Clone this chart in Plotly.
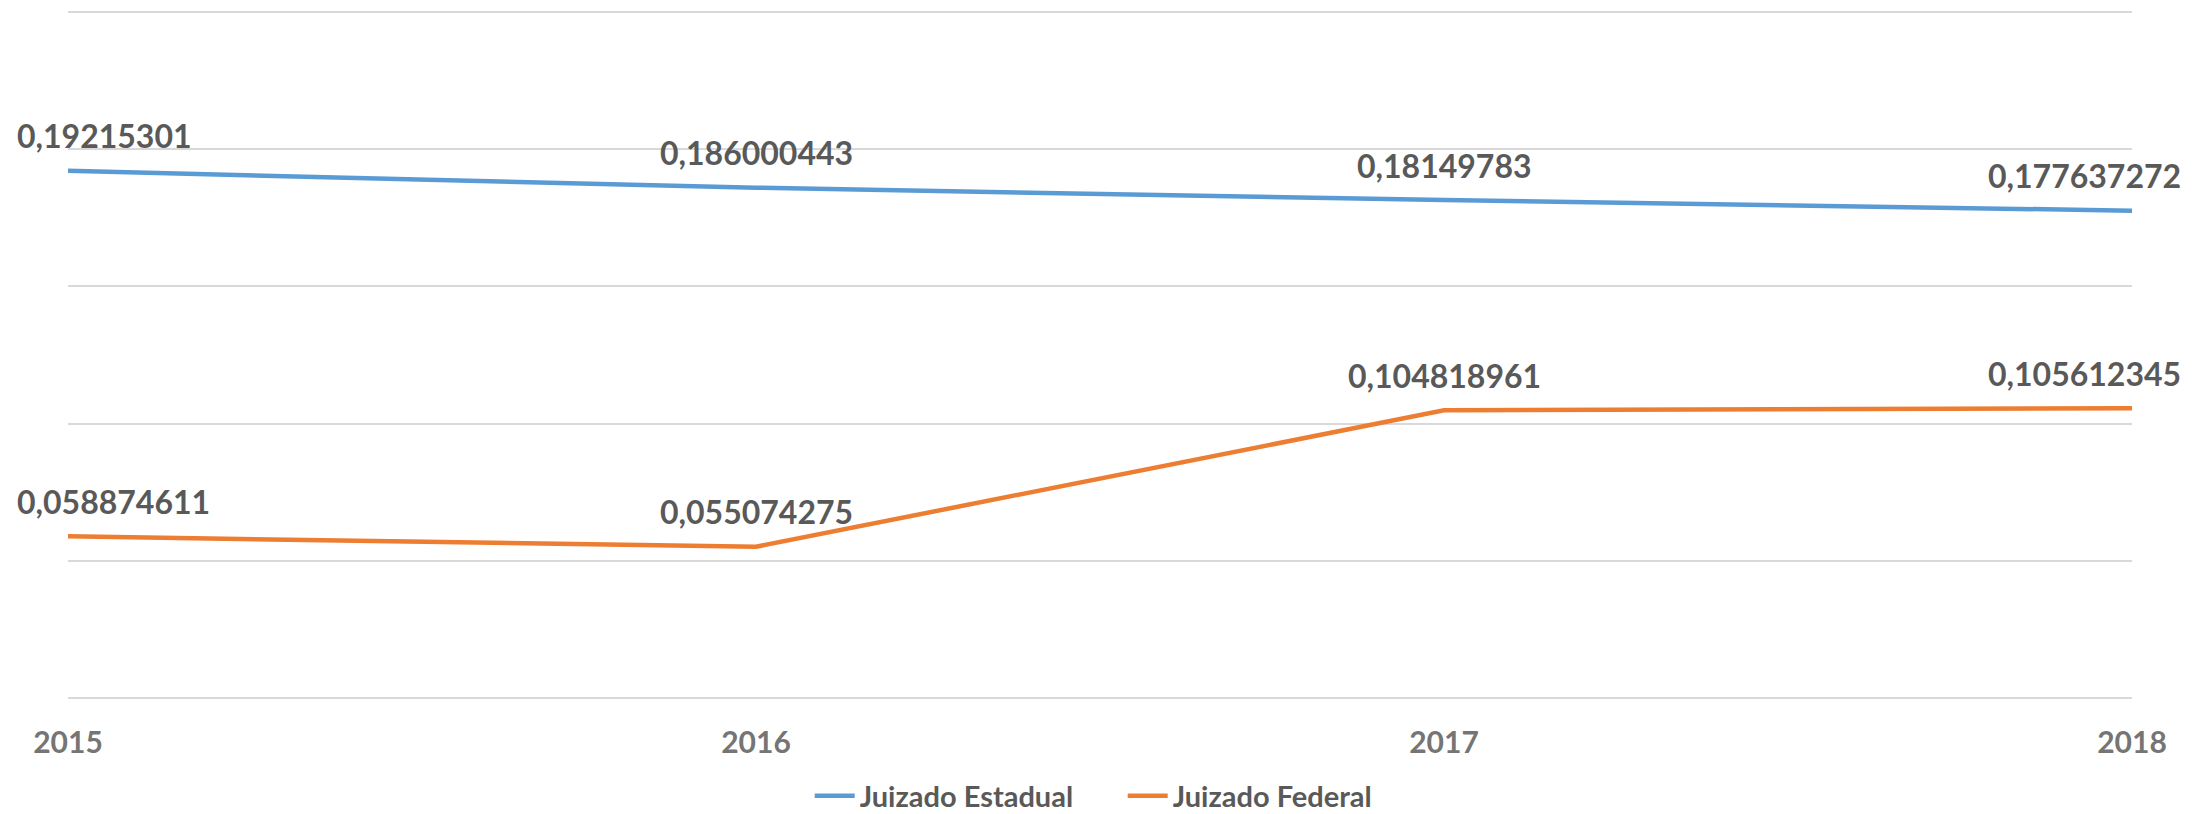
import plotly.graph_objects as go

years = [2015, 2016, 2017, 2018]
year_labels = ["2015", "2016", "2017", "2018"]
estadual = [0.19215301, 0.186000443, 0.18149783, 0.177637272]
federal = [0.058874611, 0.055074275, 0.104818961, 0.105612345]

series = [
    ("Juizado Estadual", estadual, "#5B9BD5"),
    ("Juizado Federal", federal, "#ED7D31"),
]

FONT = "Lato"
fig = go.Figure()
annotations = []
for name, vals, color in series:
    fig.add_trace(go.Scatter(
        x=years, y=vals, mode="lines", name=name,
        line=dict(color=color, width=4.5),
    ))
    for i, (x, v) in enumerate(zip(years, vals)):
        if i == 0:
            xa, xs = "left", -53
        elif i == len(years) - 1:
            xa, xs = "right", 51
        else:
            xa, xs = "center", 0
        annotations.append(dict(
            x=x, y=v, xref="x", yref="y", text=str(v).replace(".", ","),
            showarrow=False, xanchor=xa, yanchor="middle", xshift=xs, yshift=35,
            font=dict(family=FONT, size=32, color="#595959", weight="bold"),
        ))

fig.update_layout(
    width=2195, height=814,
    margin=dict(l=68, r=63, t=4, b=108, autoexpand=False),
    paper_bgcolor="white", plot_bgcolor="white",
    showlegend=True,
    legend=dict(orientation="h", x=0.511, xanchor="center",
                yref="container", y=(814 - 796) / 814, yanchor="middle",
                font=dict(family=FONT, size=29, color="#595959", weight="bold"),
                itemwidth=40, entrywidth=258, tracegroupgap=0),
    annotations=annotations,
    xaxis=dict(range=[2015, 2018], tickvals=years, ticktext=year_labels,
               showgrid=False, zeroline=False, showline=False,
               ticks="outside", ticklen=10, tickcolor="rgba(0,0,0,0)",
               tickfont=dict(family=FONT, size=30, color="#757575", weight="bold")),
    yaxis=dict(range=[-0.003, 0.253], dtick=0.05, tick0=0, showticklabels=False,
               showgrid=True, gridcolor="#D9D9D9", gridwidth=1.5,
               zeroline=False, showline=False),
)

fig.write_html("out.html", config={"displayModeBar": False},
               post_script="document.body.style.margin='0';document.body.style.overflow='hidden';")
